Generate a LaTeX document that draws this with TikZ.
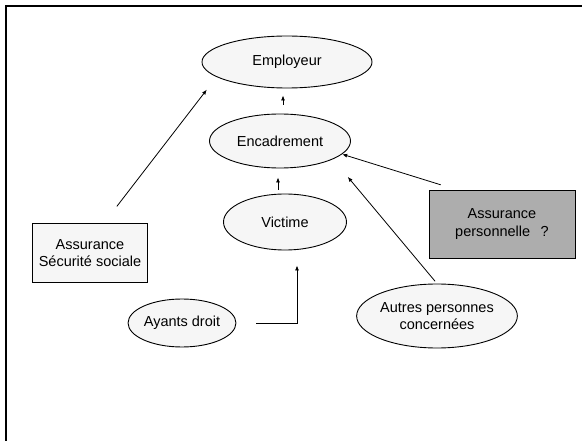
\documentclass[tikz,border=0pt]{standalone}
\usepackage{fontspec}
\setmainfont{Liberation Sans}
\usepackage{tikz}
\usetikzlibrary{arrows.meta,shapes.geometric}
\definecolor{halftone}{gray}{0.68}
\definecolor{speckle}{gray}{0.965}

\begin{document}
\begin{tikzpicture}[x=1pt,y=-1pt,
  font=\fontsize{14.5}{17.5}\selectfont,
  ellnode/.style={ellipse,draw,line width=0.9pt,fill=speckle,inner sep=0pt,align=center},
  boxnode/.style={rectangle,draw,line width=0.9pt,fill=speckle,inner sep=0pt,align=center},
  arr/.style={line width=0.8pt,-{Latex[length=5pt,width=4pt]}}]
  \useasboundingbox (0,0) rectangle (582,441);
  \draw[line width=1.5pt] (582,6) -- (6,6) -- (6,441);
  \node[ellnode,minimum width=170pt,minimum height=52pt] (emp) at (287,62) {Employeur};
  \node[ellnode,minimum width=141pt,minimum height=54pt] (enc) at (280,141) {Encadrement};
  \node[ellnode,minimum width=123pt,minimum height=56pt] (vic) at (285,222) {Victime};
  \node[ellnode,minimum width=101pt,minimum height=48pt] (ayd) at (182,323) {Ayants droit};
  \node[ellnode,minimum width=114pt,minimum height=64pt] (aut) at (437,316) {Autres personnes\\concernées};
  \node[boxnode,minimum width=115pt,minimum height=59pt] (sss) at (90,253) {Assurance\\Sécurité sociale};
  \node[boxnode,fill=halftone,minimum width=146pt,minimum height=68pt] (ape) at (502,224) {Assurance\\personnelle~~\,?};
  \draw[arr,shorten <=21pt,shorten >=16pt] ([xshift=14pt]sss.north) -- (emp.192);
  \draw[arr,shorten <=9pt,shorten >=7pt] ([xshift=3pt]enc.north) -- ([xshift=-4pt]emp.south);
  \draw[arr,shorten <=4pt,shorten >=9pt] ([xshift=-7pt]vic.north) -- ([xshift=-2pt]enc.south);
  \draw[arr,shorten <=20pt,shorten >=15pt] (ayd.east) -| ([xshift=12pt]vic.south);
  \draw[arr,shorten <=16pt] ([xshift=-46pt]ape.north) -- (enc.348);
  \draw[arr,shorten <=3pt,shorten >=23pt] (aut.north) -- (enc.341);
\end{tikzpicture}
\end{document}
